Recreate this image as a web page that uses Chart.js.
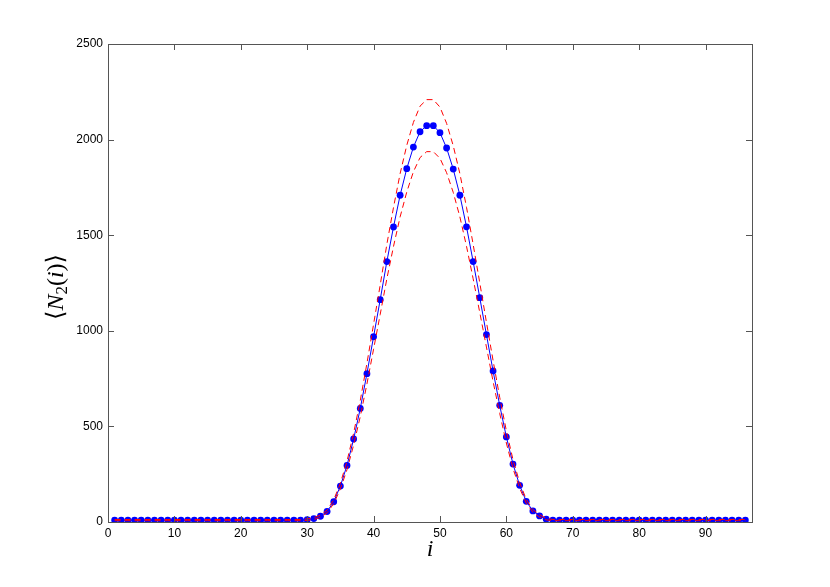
<!DOCTYPE html>
<html>
<head>
<meta charset="utf-8">
<script src="https://cdn.jsdelivr.net/npm/chart.js@4.4.1/dist/chart.umd.min.js"></script>
<style>
  html, body { margin: 0; padding: 0; background: #fff; }
  #wrap { width: 830px; height: 587px; }
</style>
</head>
<body>
<div id="wrap"><canvas id="chart" width="830" height="587"></canvas></div>
<script>
// site index i = 1..96
const sites = [
   1,  2,  3,  4,  5,  6,  7,  8,  9, 10, 11, 12, 13, 14, 15, 16,
  17, 18, 19, 20, 21, 22, 23, 24, 25, 26, 27, 28, 29, 30, 31, 32,
  33, 34, 35, 36, 37, 38, 39, 40, 41, 42, 43, 44, 45, 46, 47, 48,
  49, 50, 51, 52, 53, 54, 55, 56, 57, 58, 59, 60, 61, 62, 63, 64,
  65, 66, 67, 68, 69, 70, 71, 72, 73, 74, 75, 76, 77, 78, 79, 80,
  81, 82, 83, 84, 85, 86, 87, 88, 89, 90, 91, 92, 93, 94, 95, 96
];

// mean <N2(i)>
const meanN2 = [
  10, 10, 10, 10, 10, 10, 10, 10, 10, 10, 10, 10, 10, 10, 10, 10,
  10, 10, 10, 10, 10, 10, 10, 10, 10, 10, 10, 10, 10, 12, 18, 30,
  55, 106, 188, 296, 434, 594, 776, 969, 1163, 1362, 1543, 1709, 1848, 1961, 2041, 2073,
  2073, 2036, 1956, 1846, 1709, 1544, 1362, 1173, 980, 790, 610, 445, 303, 192, 108, 58,
  32, 15, 10, 10, 10, 10, 10, 10, 10, 10, 10, 10, 10, 10, 10, 10,
  10, 10, 10, 10, 10, 10, 10, 10, 10, 10, 10, 10, 10, 10, 10, 10
];

// upper band (red dashed)
const upperN2 = [
  13, 13, 13, 13, 13, 13, 13, 13, 13, 13, 13, 13, 13, 13, 13, 13,
  13, 13, 13, 13, 13, 13, 13, 13, 13, 13, 13, 13, 13, 16, 23, 36,
  62, 116, 203, 318, 465, 636, 830, 1034, 1240, 1452, 1645, 1822, 1970, 2090, 2175, 2209,
  2209, 2170, 2085, 1968, 1822, 1646, 1452, 1250, 1045, 845, 652, 477, 326, 207, 118, 65,
  38, 19, 13, 13, 13, 13, 13, 13, 13, 13, 13, 13, 13, 13, 13, 13,
  13, 13, 13, 13, 13, 13, 13, 13, 13, 13, 13, 13, 13, 13, 13, 13
];

// lower band (red dashed)
const lowerN2 = [
  7, 7, 7, 7, 7, 7, 7, 7, 7, 7, 7, 7, 7, 7, 7, 7,
  7, 7, 7, 7, 7, 7, 7, 7, 7, 7, 7, 7, 7, 8, 13, 24,
  48, 96, 173, 274, 403, 552, 722, 904, 1086, 1272, 1441, 1596, 1726, 1832, 1906, 1937,
  1937, 1902, 1827, 1724, 1596, 1442, 1272, 1095, 915, 735, 568, 413, 280, 177, 98, 51,
  26, 11, 7, 7, 7, 7, 7, 7, 7, 7, 7, 7, 7, 7, 7, 7,
  7, 7, 7, 7, 7, 7, 7, 7, 7, 7, 7, 7, 7, 7, 7, 7
];

const xTicks = [0, 10, 20, 30, 40, 50, 60, 70, 80, 90];
const yTicks = [0, 500, 1000, 1500, 2000, 2500];

const toPoints = vals => vals.map((v, k) => ({ x: sites[k], y: v }));
const axisColor = '#555';
const tickFont = { family: "'Liberation Sans', Arial, sans-serif", size: 12 };

// box frame with inward ticks on all sides, MATLAB style
const framePlugin = {
  id: 'frame',
  afterDatasetsDraw(chart) {
    const { ctx, chartArea: a, scales } = chart;
    const len = 6;
    ctx.save();
    ctx.strokeStyle = axisColor;
    ctx.lineWidth = 1;
    ctx.beginPath();
    xTicks.forEach(t => {
      const px = Math.round(scales.x.getPixelForValue(t)) + 0.5;
      ctx.moveTo(px, a.bottom); ctx.lineTo(px, a.bottom - len);
      ctx.moveTo(px, a.top); ctx.lineTo(px, a.top + len);
    });
    yTicks.forEach(t => {
      const py = Math.round(scales.y.getPixelForValue(t)) + 0.5;
      ctx.moveTo(a.left, py); ctx.lineTo(a.left + len, py);
      ctx.moveTo(a.right, py); ctx.lineTo(a.right - len, py);
    });
    ctx.stroke();
    ctx.strokeRect(Math.round(a.left) + 0.5, Math.round(a.top) + 0.5,
                   Math.round(a.right - a.left), Math.round(a.bottom - a.top));
    ctx.restore();
  }
};

// axis labels drawn as LaTeX-like pieces
const labelPlugin = {
  id: 'labels',
  afterDraw(chart) {
    const { ctx, chartArea: a } = chart;
    const serif = "'Liberation Serif', 'DejaVu Serif', serif";
    ctx.save();
    ctx.fillStyle = '#000';
    ctx.textBaseline = 'alphabetic';

    // x label: i
    ctx.font = `italic 24px ${serif}`;
    ctx.textAlign = 'center';
    ctx.fillText('i', (a.left + a.right) / 2, 556);

    // y label: <N_2(i)>
    const parts = [
      { t: '\u27E8', f: `24px ${serif}`, dy: 0 },
      { t: 'N', f: `italic 24px ${serif}`, dy: 0 },
      { t: '2', f: `17px ${serif}`, dy: 4 },
      { t: '(', f: `24px ${serif}`, dy: 0 },
      { t: 'i', f: `italic 24px ${serif}`, dy: 0 },
      { t: ')', f: `24px ${serif}`, dy: 0 },
      { t: '\u27E9', f: `24px ${serif}`, dy: 0 }
    ];
    let total = 0;
    parts.forEach(p => { ctx.font = p.f; p.w = ctx.measureText(p.t).width; total += p.w; });
    ctx.translate(63, (a.top + a.bottom) / 2 + 4);
    ctx.rotate(-Math.PI / 2);
    ctx.textAlign = 'left';
    let x = -total / 2;
    parts.forEach(p => {
      ctx.font = p.f;
      ctx.fillText(p.t, x, p.dy);
      x += p.w;
    });
    ctx.restore();
  }
};

new Chart(document.getElementById('chart'), {
  type: 'line',
  data: {
    datasets: [
      {
        data: toPoints(upperN2),
        borderColor: '#ff0000',
        borderWidth: 1,
        borderDash: [6, 4],
        pointRadius: 0,
        fill: false,
        tension: 0
      },
      {
        data: toPoints(lowerN2),
        borderColor: '#ff0000',
        borderWidth: 1,
        borderDash: [6, 4],
        pointRadius: 0,
        fill: false,
        tension: 0
      },
      {
        data: toPoints(meanN2),
        borderColor: '#0000ff',
        borderWidth: 1,
        backgroundColor: '#0000ff',
        pointBackgroundColor: '#0000ff',
        pointBorderWidth: 0,
        pointRadius: 3.4,
        fill: false,
        tension: 0
      }
    ]
  },
  options: {
    responsive: false,
    animation: false,
    events: [],
    layout: { padding: { top: 44, right: 78, left: 0, bottom: 0 } },
    plugins: {
      legend: { display: false },
      tooltip: { enabled: false }
    },
    scales: {
      x: {
        type: 'linear',
        min: 0,
        max: 97,
        grid: { display: false, drawTicks: false },
        border: { display: false },
        afterBuildTicks: s => { s.ticks = xTicks.map(v => ({ value: v })); },
        afterFit: s => { s.height = 65; },
        ticks: { color: '#000', font: tickFont, padding: 4, maxRotation: 0,
                 callback: v => String(v) }
      },
      y: {
        min: 0,
        max: 2500,
        grid: { display: false, drawTicks: false },
        border: { display: false },
        afterBuildTicks: s => { s.ticks = yTicks.map(v => ({ value: v })); },
        afterFit: s => { s.width = 108; },
        ticks: { color: '#000', font: tickFont, padding: 5,
                 callback: v => String(v) }
      }
    }
  },
  plugins: [framePlugin, labelPlugin]
});
</script>
</body>
</html>
